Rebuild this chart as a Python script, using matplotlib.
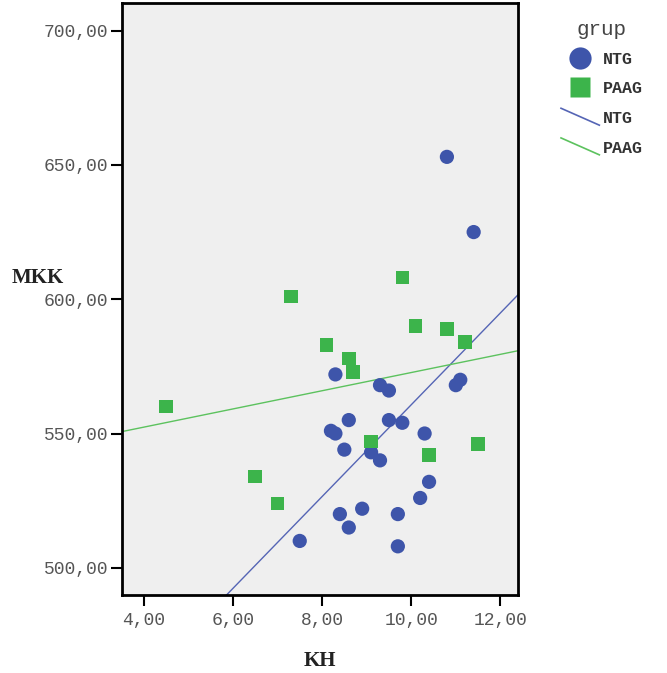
import numpy as np
import matplotlib.pyplot as plt
from matplotlib.lines import Line2D
from matplotlib.legend_handler import HandlerBase
from matplotlib.ticker import FuncFormatter


# Datos
ntg_kh = [10.8, 11.4, 8.3, 9.3, 9.5, 11.1, 11.0, 8.6, 9.5, 9.8, 8.2, 8.3,
          10.3, 8.5, 9.1, 9.3, 10.4, 10.2, 8.9, 8.4, 9.7, 8.6, 7.5, 9.7]
ntg_mkk = [653, 625, 572, 568, 566, 570, 568, 555, 555, 554, 551, 550,
           550, 544, 543, 540, 532, 526, 522, 520, 520, 515, 510, 508]

paag_kh = [9.8, 7.3, 10.1, 10.8, 11.2, 8.1, 8.6, 8.7, 4.5, 9.1, 10.4, 11.5,
           6.5, 7.0]
paag_mkk = [608, 601, 590, 589, 584, 583, 578, 573, 560, 547, 542, 546,
            534, 524]

# Rectas de ajuste (ordenada, pendiente)
ntg_fit = (389.7, 17.1)
paag_fit = (538.8, 3.39)

x_ticks = [4, 6, 8, 10, 12]
y_ticks = [500, 550, 600, 650, 700]

BLUE = "#3e55aa"
GREEN = "#3cb44b"
BLUE_LINE = "#5565b5"
GREEN_LINE = "#5cc25e"

MONO = "Liberation Mono"
SERIF = "Liberation Serif"


class DiagonalHandler(HandlerBase):
    def create_artists(self, legend, orig_handle, xdescent, ydescent,
                       width, height, fontsize, trans):
        line = Line2D([-xdescent, -xdescent + width],
                      [-ydescent + 1.25 * height, -ydescent - 0.2 * height])
        line.set_color(orig_handle.get_color())
        line.set_linewidth(orig_handle.get_linewidth())
        line.set_transform(trans)
        return [line]


def comma_fmt(v, pos):
    return f"{v:.2f}".replace(".", ",")


fig = plt.figure(figsize=(6.67, 6.73), dpi=100)
ax = fig.add_axes([0.183, 0.116, 0.594, 0.880])
ax.set_facecolor("#efefef")

ax.scatter(ntg_kh, ntg_mkk, s=105, marker="o", color=BLUE,
           edgecolors="none", zorder=3)
ax.scatter(paag_kh, paag_mkk, s=95, marker="s", color=GREEN,
           edgecolors="none", zorder=3)

x_min, x_max = 3.516, 12.40
y_min, y_max = 489.9, 710.4
xs = np.array([x_min, x_max])
ax.plot(xs, ntg_fit[0] + ntg_fit[1] * xs, color=BLUE_LINE, lw=1.0, zorder=2)
ax.plot(xs, paag_fit[0] + paag_fit[1] * xs, color=GREEN_LINE, lw=1.0, zorder=2)

ax.set_xlim(x_min, x_max)
ax.set_ylim(y_min, y_max)
ax.set_xticks(x_ticks)
ax.set_yticks(y_ticks)
ax.xaxis.set_major_formatter(FuncFormatter(comma_fmt))
ax.yaxis.set_major_formatter(FuncFormatter(comma_fmt))

for side in ["left", "right", "top", "bottom"]:
    ax.spines[side].set_linewidth(2.0)
    ax.spines[side].set_color("black")

ax.tick_params(direction="out", length=8, width=1.5, color="black",
               labelsize=13, labelcolor="#555555", pad=2)
ax.tick_params(axis="x", pad=4)
for lab in ax.get_xticklabels() + ax.get_yticklabels():
    lab.set_family(MONO)

ax.set_xlabel("KH", family=SERIF, fontweight="bold", fontsize=15,
              color="#222222", va="center")
ax.set_ylabel("MKK", family=SERIF, fontweight="bold", fontsize=15,
              color="#222222", rotation=0, ha="center", va="center")
ax.xaxis.set_label_coords(0.5, -0.112)
ax.yaxis.set_label_coords(-0.212, 0.535)

handles = [
    Line2D([], [], marker="o", linestyle="None", markersize=16,
           markerfacecolor=BLUE, markeredgecolor="none"),
    Line2D([], [], marker="s", linestyle="None", markersize=15,
           markerfacecolor=GREEN, markeredgecolor="none"),
    Line2D([], [], color=BLUE_LINE, lw=1.2),
    Line2D([], [], color=GREEN_LINE, lw=1.2),
]
labels = ["NTG", "PAAG", "NTG", "PAAG"]
leg = fig.legend(handles, labels, loc="upper left",
                 bbox_to_anchor=(546 / 667, 1 - 5 / 673),
                 frameon=False, title="grup",
                 prop={"family": MONO, "size": 12, "weight": "bold"},
                 title_fontproperties={"family": MONO, "size": 15},
                 handlelength=2.3, handletextpad=0.2, labelspacing=0.88,
                 borderpad=0.4,
                 handler_map={handles[2]: DiagonalHandler(),
                              handles[3]: DiagonalHandler()})
leg._legend_box.sep = 9
for t in leg.get_texts():
    t.set_color("#333333")
leg.get_title().set_color("#444444")

fig.savefig("out.png", dpi=100)
